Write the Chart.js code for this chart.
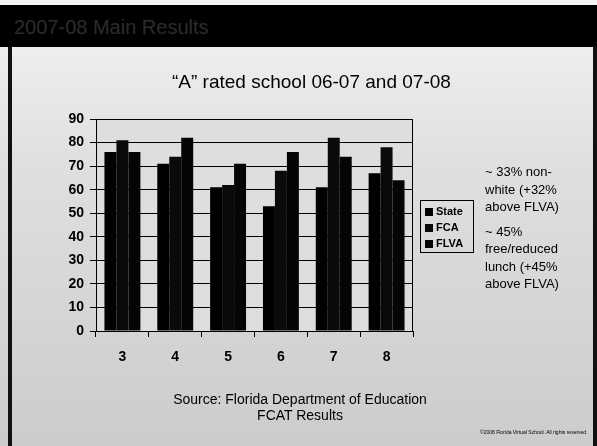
<!DOCTYPE html>
<html>
<head>
<meta charset="utf-8">
<script src="https://cdn.jsdelivr.net/npm/chart.js@4"></script>
<style>
  html, body { margin:0; padding:0; width:597px; height:446px; overflow:hidden; background:#ffffff; }
  #wrap { position:relative; width:597px; height:446px; font-family:"Liberation Sans", Arial, sans-serif; color:#000; }
  #slide { position:absolute; left:0; top:0; width:597px; height:446px;
           background:linear-gradient(#f4f4f4 0%, #e0e0e0 35%, #cccccc 100%); }
  #bar { position:absolute; left:0; top:5px; width:597px; height:42px; background:#000; }
  #bar span { position:absolute; left:14px; top:11px; font-size:20px; color:#2c2c2c; white-space:nowrap; }
  #lb { position:absolute; left:8px; top:47px; width:4px; height:399px; background:#111; }
  #rb { position:absolute; left:593px; top:47px; width:4px; height:399px; background:#111; }
  canvas { position:absolute; left:0; top:0; }
  .t { position:absolute; white-space:nowrap; }
  #title { left:172px; top:71px; font-size:19px; }
  #note { left:485px; top:163px; font-size:13px; line-height:17.5px; }
  #src { left:0; width:600px; text-align:center; top:391px; font-size:14px; line-height:16px; }
  #foot { left:480px; top:429px; font-size:5px; }
  #legend { position:absolute; left:420px; top:200px; width:52px; height:51px; border:1px solid #000; }
  #legend div { position:absolute; left:4px; font-size:11px; font-weight:bold; white-space:nowrap; line-height:12px; }
  #legend i { display:inline-block; width:8px; height:8px; background:#000; margin-right:3px; vertical-align:-1px; }
</style>
</head>
<body>
<div id="wrap">
  <div id="slide"></div>
  <div id="bar"><span>2007-08 Main Results</span></div>
  <div id="lb"></div>
  <div id="rb"></div>
  <canvas id="c" width="597" height="446"></canvas>
  <div class="t" id="title">“A” rated school 06-07 and 07-08</div>
  <div class="t" id="note">~ 33% non-<br>white (+32%<br>above FLVA)<br><span style="display:block;height:7px"></span>~ 45%<br>free/reduced<br>lunch (+45%<br>above FLVA)</div>
  <div class="t" id="src">Source: Florida Department of Education<br>FCAT Results</div>
  <div class="t" id="foot">©2008 Florida Virtual School. All rights reserved.</div>
  <div id="legend"></div>
</div>
<script>
const grades = ['3', '4', '5', '6', '7', '8'];
const seriesNames = ['State', 'FCA', 'FLVA'];
const stateValues = [76, 71, 61, 53, 61, 67];
const fcaValues = [81, 74, 62, 68, 82, 78];
const flvaValues = [76, 82, 71, 76, 74, 64];
const yTicks = [0, 10, 20, 30, 40, 50, 60, 70, 80, 90];

const colors = ['#000000', '#0a0a0a', '#050505'];
const seriesValues = [stateValues, fcaValues, flvaValues];

// legend
const leg = document.getElementById('legend');
seriesNames.forEach((n, i) => {
  const d = document.createElement('div');
  d.style.top = (4 + i * 16) + 'px';
  d.innerHTML = '<i style="background:' + colors[i] + '"></i>' + n;
  leg.appendChild(d);
});

const FONT = '"Liberation Sans", Arial, sans-serif';

const plotBox = {
  id: 'plotBox',
  beforeDraw(chart) {
    const a = chart.chartArea, ctx = chart.ctx;
    ctx.save();
    ctx.fillStyle = '#dedede';
    ctx.fillRect(a.left, a.top, a.right - a.left, a.bottom - a.top);
    ctx.restore();
  },
  afterDraw(chart) {
    const a = chart.chartArea, ctx = chart.ctx;
    ctx.save();
    ctx.strokeStyle = '#000';
    ctx.lineWidth = 1;
    ctx.strokeRect(a.left + 0.5, a.top + 0.5, a.right - a.left - 1, a.bottom - a.top);
    ctx.restore();
  }
};

new Chart(document.getElementById('c'), {
  type: 'bar',
  data: {
    labels: grades,
    datasets: seriesNames.map((n, i) => ({
      label: n,
      data: seriesValues[i],
      backgroundColor: colors[i],
      borderWidth: 0,
      categoryPercentage: 0.68,
      barPercentage: 1.0
    }))
  },
  options: {
    responsive: false,
    devicePixelRatio: 1,
    animation: false,
    layout: { padding: { left: 60, right: 184, top: 119, bottom: 75 } },
    plugins: { legend: { display: false }, title: { display: false }, tooltip: { enabled: false } },
    scales: {
      x: {
        afterFit: s => { s.height = 40; },
        grid: { display: true, offset: true, drawOnChartArea: false, color: '#000', tickLength: 6, lineWidth: 1 },
        border: { display: true, color: '#000', width: 1 },
        ticks: { color: '#000', padding: 12, font: { family: FONT, size: 14, weight: 'bold' } }
      },
      y: {
        min: 0, max: 90,
        afterFit: s => { s.width = 36; },
        afterBuildTicks: s => { s.ticks = yTicks.map(v => ({ value: v })); },
        grid: { color: '#000', lineWidth: 1, tickLength: 6 },
        border: { display: true, color: '#000', width: 1 },
        ticks: { color: '#000', padding: 6, font: { family: FONT, size: 14, weight: 'bold' } }
      }
    }
  },
  plugins: [plotBox]
});
</script>
</body>
</html>
